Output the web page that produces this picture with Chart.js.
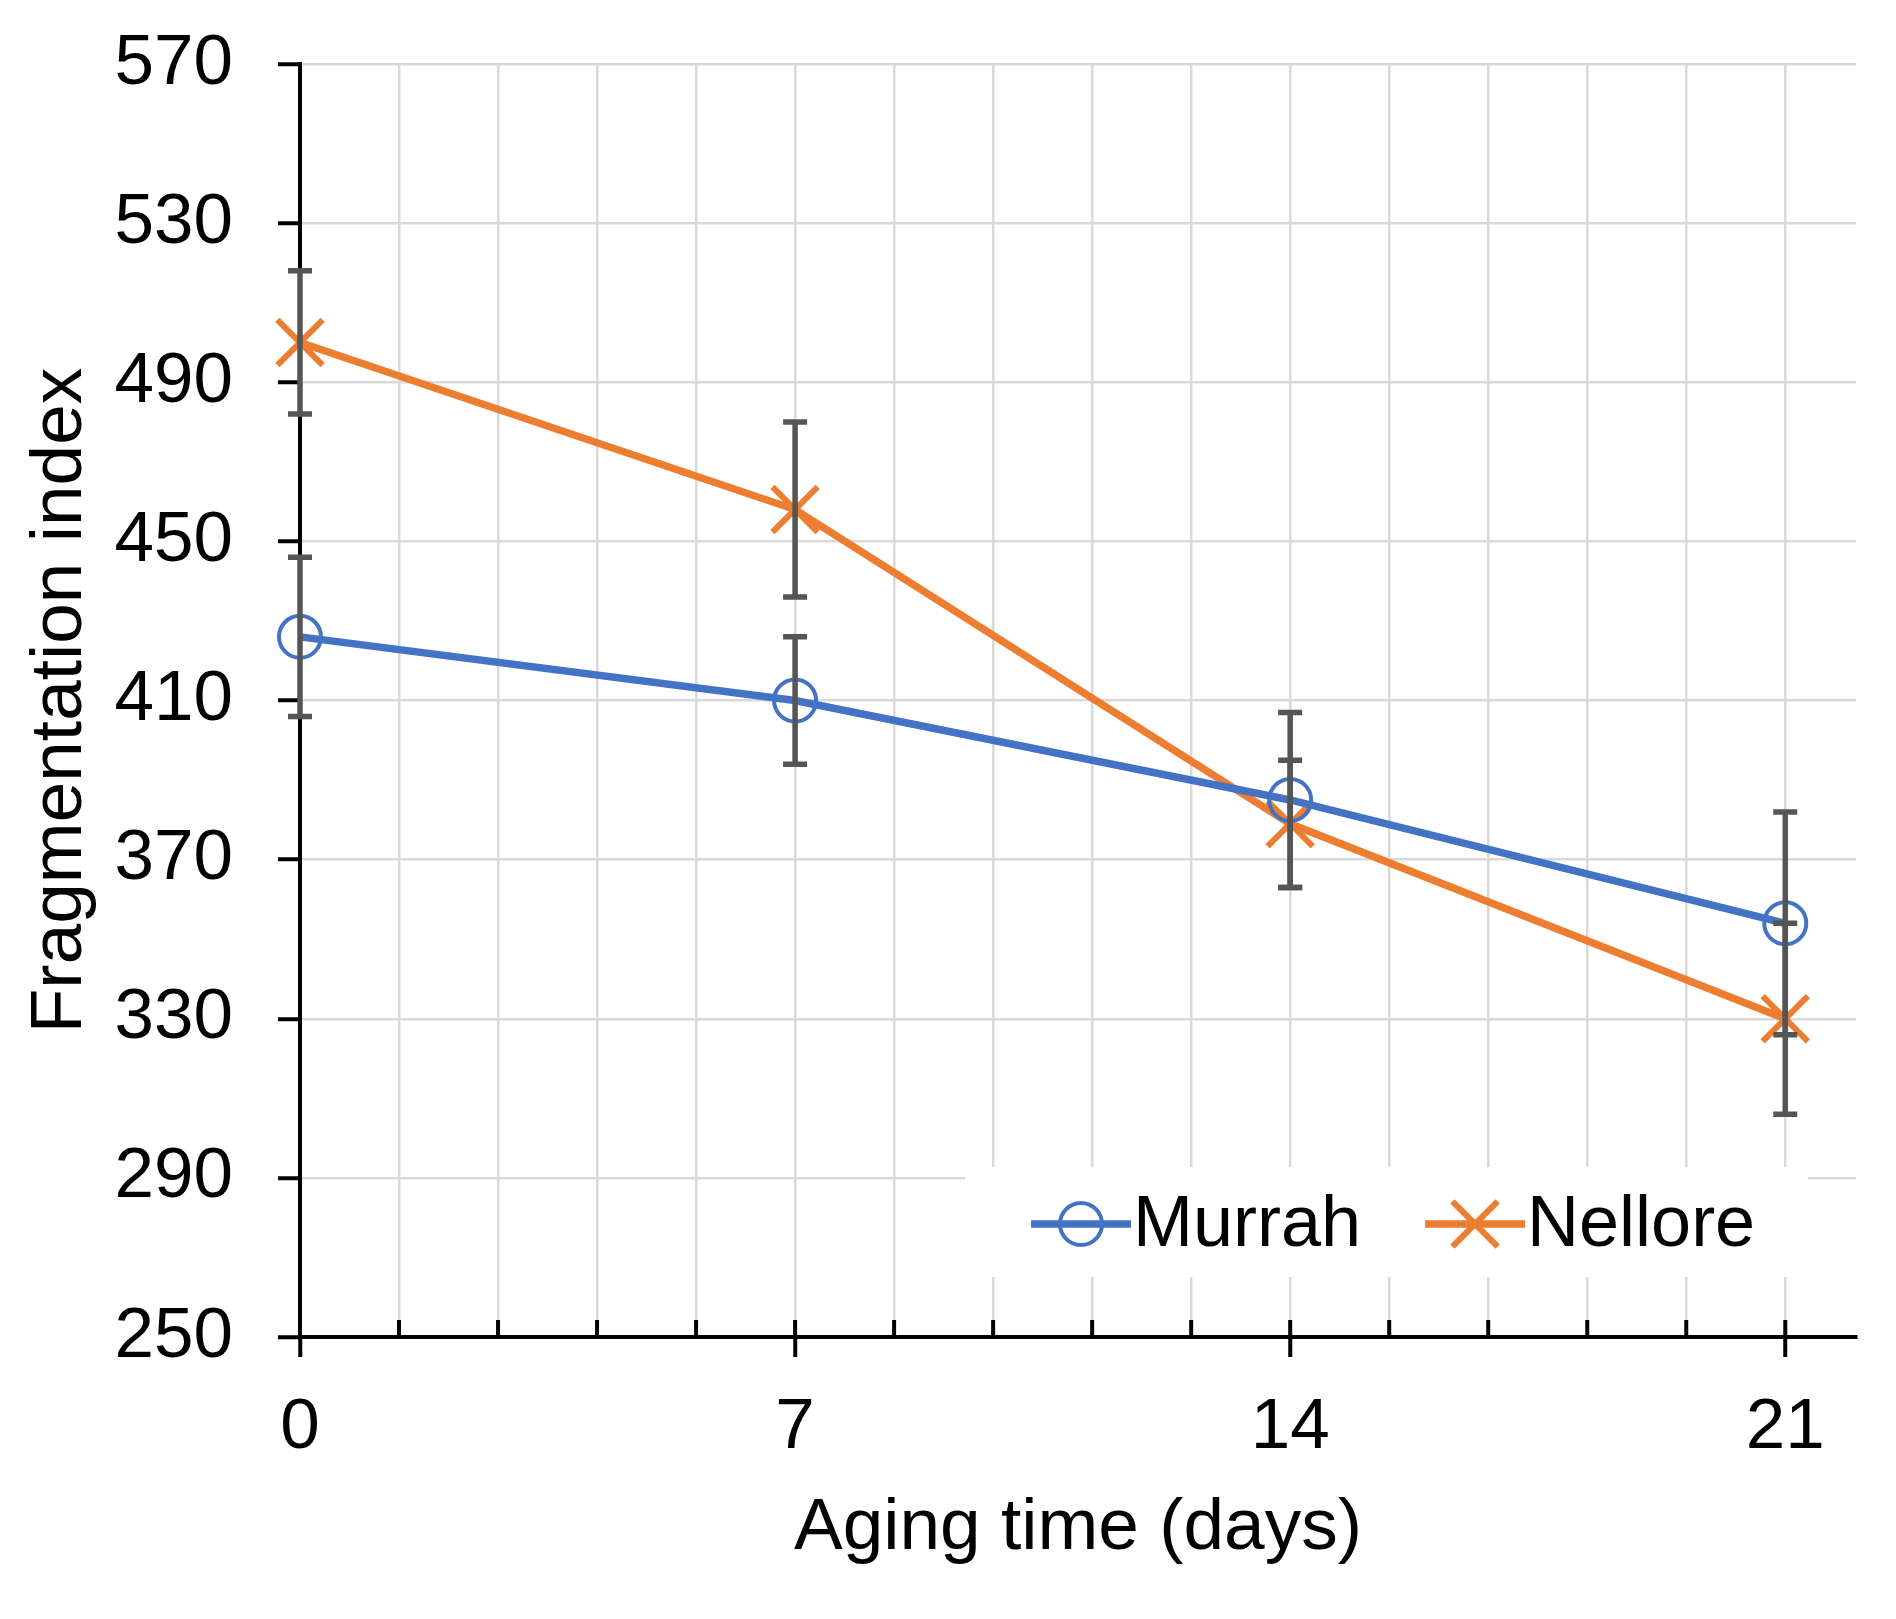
<!DOCTYPE html>
<html>
<head>
<meta charset="utf-8">
<script src="https://cdn.jsdelivr.net/npm/chart.js@4/dist/chart.umd.min.js"></script>
<style>
  html, body { margin: 0; padding: 0; background: #fff; }
  #wrap { width: 1896px; height: 1619px; }
</style>
</head>
<body>
<div id="wrap"><canvas id="frag" width="1896" height="1619"></canvas></div>
<script>
// values
const days = [0, 7, 14, 21];
const murrah = [426, 410, 385, 354];
const murrahErr = [20, 16, 22, 28];
const nellore = [500, 458, 379, 330];
const nelloreErr = [18, 22, 16, 24];
const yTicks = [250, 290, 330, 370, 410, 450, 490, 530, 570];
const xLabels = [0, 7, 14, 21];

const BLUE = '#4472C4';
const ORANGE = '#ED7D31';
const FONT = '"Liberation Sans", Arial, sans-serif';

const isMajorX = v => xLabels.includes(Math.round(v * 10) / 10);

// grey error bars on top of the lines
const errorBars = {
  id: 'errorBars',
  afterDatasetsDraw(chart) {
    const {ctx, scales: {x, y}} = chart;
    ctx.save();
    ctx.strokeStyle = '#555555';
    ctx.lineWidth = 5.5;
    chart.data.datasets.forEach(ds => {
      ds.data.forEach((p, i) => {
        const e = ds.errors[i];
        const px = x.getPixelForValue(p.x);
        const top = y.getPixelForValue(p.y + e);
        const bot = y.getPixelForValue(p.y - e);
        ctx.beginPath();
        ctx.moveTo(px, top); ctx.lineTo(px, bot);
        ctx.moveTo(px - 12, top); ctx.lineTo(px + 12, top);
        ctx.moveTo(px - 12, bot); ctx.lineTo(px + 12, bot);
        ctx.stroke();
      });
    });
    ctx.restore();
  }
};

// inner tick marks above the x axis
const innerTicks = {
  id: 'innerTicks',
  afterDraw(chart) {
    const {ctx, scales: {x}, chartArea} = chart;
    ctx.save();
    ctx.strokeStyle = '#000';
    ctx.lineWidth = 4;
    x.ticks.forEach(t => {
      if (t.value === 0) return;
      const px = x.getPixelForValue(t.value);
      ctx.beginPath();
      ctx.moveTo(px, chartArea.bottom);
      ctx.lineTo(px, chartArea.bottom - 17);
      ctx.stroke();
    });
    ctx.restore();
  }
};

// legend inside the plot, white box over the grid
const insideLegend = {
  id: 'insideLegend',
  beforeDatasetsDraw(chart) {
    const {ctx} = chart;
    const boxL = 965, boxT = 1167, boxR = 1808, boxB = 1277;
    ctx.save();
    ctx.fillStyle = '#fff';
    ctx.fillRect(boxL, boxT, boxR - boxL, boxB - boxT);
    ctx.font = '72px ' + FONT;
    ctx.textBaseline = 'middle';
    const cy = 1224;
    let xPos = 1031;
    chart.data.datasets.forEach(ds => {
      ctx.strokeStyle = ds.borderColor;
      ctx.lineWidth = ds.borderWidth;
      ctx.beginPath();
      ctx.moveTo(xPos, cy); ctx.lineTo(xPos + 100, cy);
      ctx.stroke();
      ctx.fillStyle = 'rgba(0,0,0,0)';
      ctx.lineWidth = ds.pointBorderWidth;
      Chart.helpers.drawPoint(ctx, {
        pointStyle: ds.pointStyle,
        radius: ds.pointRadius,
        borderWidth: ds.pointBorderWidth,
        rotation: 0
      }, xPos + 50, cy);
      ctx.fillStyle = '#000';
      ctx.fillText(ds.label, xPos + 102, cy + 2);
      xPos += 102 + ctx.measureText(ds.label).width + 64;
    });
    ctx.restore();
  }
};

const pts = (xs, ys) => xs.map((d, i) => ({x: d, y: ys[i]}));

new Chart(document.getElementById('frag'), {
  type: 'line',
  data: {
    datasets: [
      {
        label: 'Murrah',
        data: pts(days, murrah),
        errors: murrahErr,
        clip: false,
        borderColor: BLUE,
        backgroundColor: 'rgba(0,0,0,0)',
        borderWidth: 7.5,
        pointStyle: 'circle',
        pointRadius: 21,
        pointBorderWidth: 4,
        pointBorderColor: BLUE,
        pointBackgroundColor: 'rgba(0,0,0,0)'
      },
      {
        label: 'Nellore',
        data: pts(days, nellore),
        errors: nelloreErr,
        clip: false,
        borderColor: ORANGE,
        backgroundColor: 'rgba(0,0,0,0)',
        borderWidth: 7.5,
        pointStyle: 'crossRot',
        pointRadius: 32,
        pointBorderWidth: 6,
        pointBorderColor: ORANGE
      }
    ]
  },
  options: {
    responsive: false,
    animation: false,
    devicePixelRatio: 1,
    layout: {padding: {top: 64, right: 40, bottom: 0, left: 0}},
    plugins: {legend: {display: false}, tooltip: {enabled: false}},
    scales: {
      x: {
        type: 'linear',
        min: 0,
        max: 22,
        afterBuildTicks: s => { s.ticks = Array.from({length: 16}, (_, k) => ({value: Math.round(k * 14) / 10})); },
        afterFit: s => { s.height = 282; },
        ticks: {
          autoSkip: false,
          maxRotation: 0,
          padding: 29,
          color: '#000',
          font: {family: FONT, size: 71},
          callback: v => isMajorX(v) ? String(Math.round(v)) : ''
        },
        grid: {
          color: '#D9D9D9',
          lineWidth: 2.5,
          tickLength: 20,
          tickWidth: 4,
          tickColor: c => isMajorX(c.tick.value) ? '#000' : 'rgba(0,0,0,0)'
        },
        border: {color: '#000', width: 4},
        title: {
          display: true,
          text: 'Aging time (days)',
          color: '#000',
          font: {family: FONT, size: 73},
          padding: {top: 0, bottom: 46}
        }
      },
      y: {
        min: 250,
        max: 570,
        afterBuildTicks: s => { s.ticks = yTicks.map(v => ({value: v})); },
        afterFit: s => { s.width = 300; s.paddingTop = 0; s.paddingBottom = 0; },
        ticks: {
          padding: 45,
          color: '#000',
          font: {family: FONT, size: 71, lineHeight: 0.4}
        },
        grid: {
          color: '#D9D9D9',
          lineWidth: 2.5,
          tickLength: 22,
          tickWidth: 4,
          tickColor: '#000'
        },
        border: {color: '#000', width: 4},
        title: {
          display: true,
          text: 'Fragmentation index',
          color: '#000',
          font: {family: FONT, size: 73},
          padding: {top: 17, bottom: 0}
        }
      }
    }
  },
  plugins: [insideLegend, errorBars, innerTicks]
});
</script>
</body>
</html>
